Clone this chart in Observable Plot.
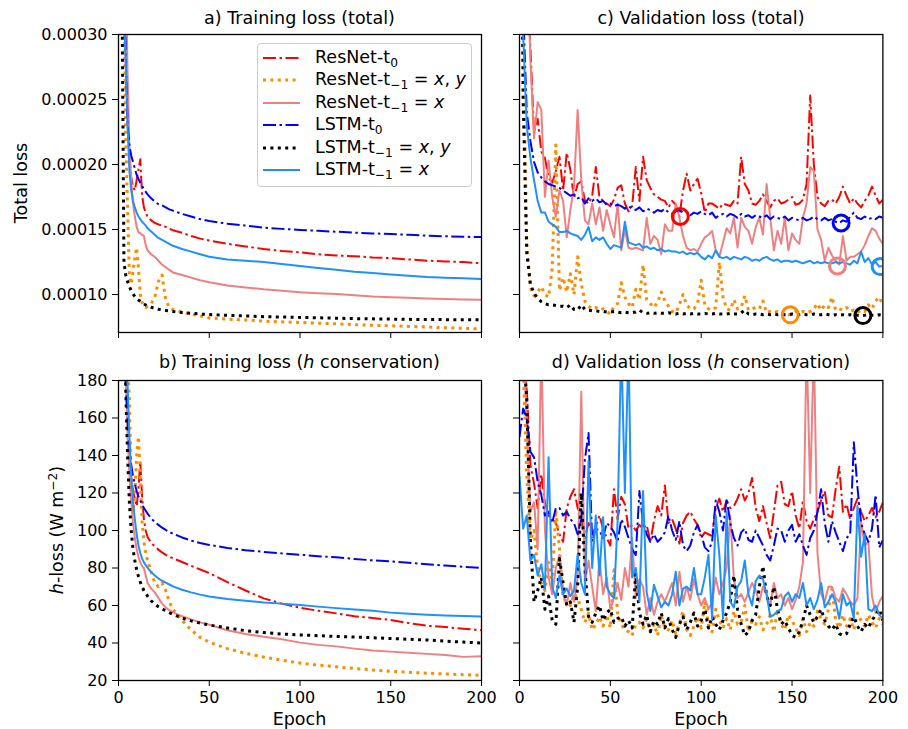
<!DOCTYPE html>
<html>
<head>
<meta charset="utf-8">
<script src="https://cdn.jsdelivr.net/npm/d3@7"></script>
<script src="https://cdn.jsdelivr.net/npm/@observablehq/plot@0.6"></script>
<style>
  body { margin: 0; background: #fff; }
  #fig { position: relative; width: 908px; height: 729px; font-family: "DejaVu Sans", sans-serif; color: #000; overflow: hidden; background: #fff; }
  .txt { position: absolute; white-space: nowrap; font-size: 17.5px; line-height: 1; transform: translate(-50%, -50%); }
  .rot { transform: translate(-50%, -50%) rotate(-90deg); }
  .leg { position: absolute; white-space: nowrap; font-size: 17.5px; line-height: 1; transform: translateY(-50%); }
  sub { font-size: 0.7em; vertical-align: -0.3em; line-height: 0; }
  sup { font-size: 0.7em; vertical-align: 0.55em; line-height: 0; }
  i { font-style: oblique; }
</style>
</head>
<body>
<div id="fig"></div>
<script>
// ---------------- data ----------------
const xTicks = [0, 50, 100, 150, 200];
const yTicksTotal = [10, 15, 20, 25, 30];      // units of 1e-5
const yTicksH = [20, 40, 60, 80, 100, 120, 140, 160, 180];

const seriesLabels = [
  "ResNet-t<sub>0</sub>",
  "ResNet-t<sub>−1</sub> = <i>x</i>, <i>y</i>",
  "ResNet-t<sub>−1</sub> = <i>x</i>",
  "LSTM-t<sub>0</sub>",
  "LSTM-t<sub>−1</sub> = <i>x</i>, <i>y</i>",
  "LSTM-t<sub>−1</sub> = <i>x</i>"
];

const trainEpoch = [1,2,3,4,5,6,7,8,9,10,11,12,13,14,15,16,18,20,22,24,26,28,30,35,40,45,50,60,70,80,90,100,110,120,130,140,150,160,170,180,190,200];

// a) training total loss (x 1e-5)
const trainTotalResNetT0 = [80,50,38,30,24,20.5,19.0,18.3,18.0,18.8,19.6,20.4,17.6,16.7,16.3,16.0,15.7,15.5,15.4,15.3,15.2,15.05,14.95,14.75,14.5,14.3,14.15,13.9,13.7,13.5,13.35,13.25,13.1,13.0,12.95,12.85,12.8,12.7,12.6,12.55,12.5,12.4];
const trainTotalResNetXY = [100,60,35,22,16.5,11.5,10.8,11.8,12.8,13.6,12.0,10.0,9.4,9.1,9.0,9.1,9.3,9.8,11.0,11.5,9.6,9.0,8.85,8.65,8.5,8.35,8.2,8.1,8.05,7.95,7.9,7.85,7.8,7.75,7.68,7.63,7.6,7.55,7.5,7.45,7.4,7.35];
const trainTotalResNetX = [100,70,48,35,27,21.5,18.8,17.0,16.0,15.2,14.8,14.7,14.6,14.5,13.8,13.4,13.1,12.9,12.6,12.3,12.1,11.9,11.7,11.5,11.3,11.1,10.95,10.7,10.55,10.4,10.3,10.18,10.1,10.05,9.95,9.85,9.8,9.75,9.7,9.65,9.62,9.6];
const trainTotalLstmT0 = [80,50,38,28,23,21.5,20.7,20.2,19.7,19.2,18.9,18.6,18.35,18.1,17.9,17.7,17.4,17.15,16.95,16.85,16.7,16.55,16.45,16.2,16.0,15.8,15.65,15.45,15.3,15.15,15.05,14.97,14.9,14.83,14.76,14.7,14.65,14.6,14.53,14.48,14.44,14.42];
const trainTotalLstmXY = [60,32,12.5,11.5,11.0,10.6,10.3,10.05,9.85,9.7,9.58,9.48,9.38,9.28,9.2,9.12,9.02,8.94,8.87,8.82,8.78,8.74,8.7,8.62,8.56,8.5,8.46,8.4,8.35,8.3,8.27,8.24,8.21,8.18,8.15,8.13,8.11,8.09,8.08,8.07,8.06,8.05];
const trainTotalLstmX = [90,50,32,28,23,19.5,18.0,17.2,16.7,16.3,16.0,15.8,15.6,15.45,15.3,15.1,14.85,14.6,14.35,14.2,14.05,13.9,13.75,13.5,13.3,13.1,12.9,12.7,12.6,12.5,12.35,12.2,12.05,11.9,11.75,11.65,11.55,11.45,11.35,11.3,11.25,11.2];

// b) training h-loss (W m-2)
const trainHResNetT0 = [400,300,220,180,155,140,128,121,117,113,122,137,118,106,100,96.5,93.5,91.5,89.8,88.3,87,86,85.2,83.2,81.2,79.2,77.3,72.5,68,63.8,61,58.8,57.2,55.8,54.3,53.3,52.3,50.6,49.2,48.5,47.6,46.8];
const trainHResNetXY = [400,320,260,215,190,170,125,110,120,140,150,130,105,94,88,84,78,72,70,72,68,62,58,52,47,43,40.5,37,34.5,32.5,30.8,29.3,28.2,27.3,26.4,25.6,24.9,24.4,23.9,23.5,23.1,22.8];
const trainHResNetX = [400,300,230,180,150,130,115,104,96,90,86,83,81,80,76,72,69,67,64,61,59,57.5,56.3,54.3,52.6,51,49.7,46.8,44.8,43.3,42,40.2,39,38.2,37,36,35.4,34.8,34.2,33.6,32.6,33];
const trainHLstmT0 = [400,300,220,180,160,145,135,129,125,121,118,116,114,112,110.5,109,106.5,104.5,103,101.5,100.3,99.2,98.3,96.3,94.6,93.3,92.3,90.7,89.5,88.6,87.8,87.1,86.3,85.7,84.8,84.1,83.5,82.8,82,81.3,80.6,80];
const trainHLstmXY = [400,300,220,175,140,115,100,90,84,79,75.5,72.5,70,68,66.5,65,62.5,60.8,59.3,58.2,57.2,56.2,55.3,53.3,51.8,50.6,49.6,48,46.6,45.6,44.8,44.3,43.9,43.5,43.2,42.8,42.4,42,41.6,41,40.5,40];
const trainHLstmX = [500,380,280,215,178,150,130,115,106,98,92,88,85,83,81.5,80.2,77.8,76,74.4,73.2,72.2,71.2,70.2,68.4,67,65.8,64.8,63.5,62.5,61.6,61,60.3,59.4,58.6,57.9,57.2,56.2,55.6,55.1,54.7,54.4,54.1];

const valEpoch = [0,2,4,6,8,10,12,14,16,18,20,22,24,26,28,30,32,34,36,38,40,42,44,46,48,50,52,54,56,58,60,62,64,66,68,70,72,74,76,78,80,82,84,86,88,90,92,94,96,98,100,102,104,106,108,110,112,114,116,118,120,122,124,126,128,130,132,134,136,138,140,142,144,146,148,150,152,154,156,158,160,162,164,166,168,170,172,174,176,178,180,182,184,186,188,190,192,194,196,198,200];

// c) validation total loss (x 1e-5)
const valTotalResNetT0 = [60,45,35,29,22.5,23.5,21.0,20.5,19.0,18.6, 19.5,20.6,18.0,20.9,19.6,17.4,18.5,18.7,17.2,17.0, 17.6,19.8,17.5,17.2,17.0,16.8,17.3,18.2,18.4,17.0, 16.4,16.8,19.8,17.2,20.6,18.8,18.2,17.7,17.5,17.3, 17.2,16.7,17.2,16.9,16.0,18.0,19.3,18.0,18.5,18.9, 17.8,16.3,17.0,17.0,16.8,16.6,17.0,16.9,16.8,17.2, 17.0,20.6,18.5,18.0,17.0,16.9,17.2,17.7,17.2,16.7, 17.2,17.4,17.0,17.1,17.3,17.5,16.9,17.0,17.3,18.5, 25.3,20.0,17.5,17.0,16.8,17.2,17.3,17.0,17.5,18.3, 17.6,17.0,17.4,17.0,16.7,17.2,17.6,18.3,17.6,17.0, 17.3];
const valTotalResNetXY = [60,30,14,10.5,9.9,10.2,10.6,10.0,9.8,12.0, 21.5,10.3,11.3,10.2,11.6,10.0,12.9,10.8,9.5,9.1, 8.9,9.0,8.8,8.9,8.7,8.5,9.1,9.3,10.9,9.8, 9.3,9.0,10.4,9.6,12.3,9.6,9.3,9.0,9.4,10.2, 9.5,9.1,8.7,8.6,9.2,10.0,9.2,8.9,8.9,9.3, 11.1,9.2,8.9,8.8,9.0,12.5,9.8,8.9,8.8,9.6, 8.9,9.0,9.9,8.8,8.9,9.0,8.9,9.5,8.6,8.7, 8.6,8.7,8.5,8.6,8.45,8.5,8.7,8.6,8.7,8.6, 8.7,8.9,9.3,8.8,9.2,9.0,9.8,8.8,8.9,8.8, 9.0,8.7,8.8,8.6,8.8,8.7,9.2,8.9,9.5,9.8, 9.2];
const valTotalResNetX = [60,50,38,28,22.0,24.8,24.2,17.5,20.3,17.5, 16.0,18.0,17.2,14.4,16.5,18.3,24.2,18.8,15.7,15.4, 17.0,15.4,16.7,14.9,16.5,15.4,14.4,17.0,13.4,15.0, 13.6,13.5,13.6,13.5,13.4,15.9,13.9,14.5,14.2,13.1, 15.4,14.9,14.9,17.0,15.9,14.5,13.6,13.4,13.5,13.3, 13.9,14.4,14.6,14.9,13.4,12.9,14.0,15.1,14.7,15.9, 13.6,15.9,15.2,14.9,13.9,15.2,15.9,14.6,18.5,15.9, 13.4,14.9,13.9,15.9,13.4,14.7,14.2,13.9,15.9,17.0, 19.8,19.5,15.0,14.2,12.6,13.6,13.0,12.6,12.3,14.5, 12.6,12.9,12.9,13.1,13.3,13.8,14.5,15.1,14.9,14.3, 13.9];
const valTotalLstmT0 = [60,32,24.0,21.8,20.2,19.4,19.0,18.7,18.5,18.4, 18.3,18.2,18.0,17.8,17.6,17.7,17.4,17.5,17.0,17.4, 17.2,17.4,17.1,17.2,16.9,17.0,16.8,16.9,16.8,16.6, 16.8,16.6,16.5,16.7,16.4,16.6,16.5,16.3,16.5,16.4, 16.6,16.3,16.2,16.4,16.5,16.3,16.4,16.1,16.3,16.2, 16.4,16.2,16.1,16.3,15.9,16.1,16.2,16.0,16.2,16.1, 15.9,16.2,16.0,16.1,15.9,16.1,16.0,15.9,16.1,15.8, 16.0,15.9,15.8,16.0,15.7,15.9,15.8,15.7,15.9,15.7, 15.8,16.0,15.8,15.7,15.9,15.7,15.8,15.6,15.5,15.7, 15.6,16.0,16.3,15.9,15.8,16.0,15.8,15.9,15.8,16.0, 15.9];
const valTotalLstmXY = [60,25,13.2,10.8,10.1,9.7,9.45,9.3,9.2,9.2, 9.15,9.1,9.1,9.0,9.2,8.85,8.8,9.2,8.85,8.8, 8.75,8.75,8.7,8.7,8.65,8.65,8.7,8.65,8.6,8.65, 8.6,8.6,8.65,8.8,8.6,8.55,8.6,8.55,8.6,8.55, 8.55,8.6,8.55,8.5,8.55,8.5,8.55,8.5,8.55,8.5, 8.5,8.55,8.5,8.5,8.55,8.5,8.5,8.5,8.55,8.5, 8.5,8.6,8.8,8.5,8.45,8.5,8.5,8.45,8.5,8.45, 8.5,8.45,8.5,8.45,8.45,8.5,8.45,8.45,8.5,8.45, 8.45,8.5,8.45,8.45,8.5,8.45,8.4,8.45,8.4,8.45, 8.4,8.45,8.4,8.4,8.38,8.4,8.45,8.4,8.4,8.45, 8.4];
const valTotalLstmX = [60,30,23.0,20.5,18.8,17.2,16.3,16.3,15.6,15.4, 15.2,14.8,14.8,14.9,14.7,14.6,14.5,14.2,14.6,15.2, 14.1,14.4,14.2,14.4,13.9,13.5,13.8,13.7,13.6,15.6, 14.0,13.9,13.8,13.9,13.6,13.7,13.5,13.6,13.4,13.5, 13.3,13.4,13.3,13.3,13.2,13.3,13.1,13.2,13.1,13.2, 12.9,12.7,13.0,12.8,13.4,12.9,12.8,12.9,12.7,12.9, 12.8,12.7,12.9,12.8,12.6,12.7,12.6,12.8,12.9,12.7, 12.6,12.7,12.5,12.6,12.6,12.5,12.6,12.5,12.4,12.5, 12.6,12.4,12.5,12.4,12.5,12.4,12.4,12.5,12.4,12.5, 12.4,12.3,12.6,12.4,13.3,12.5,12.8,12.3,12.5,12.15, 12.2];

// minima circles in panel c (series order as legend)
const valMinEpoch = [88.5, 149, 175, 177, 189, 198.5];
const valMinLoss = [16.0, 8.44, 12.2, 15.5, 8.38, 12.15];

// d) validation h-loss (W m-2)
const valHResNetT0 = [200,190,175,135,125,112,130,115,108,106, 104,98,94,112,118,122,112,108,96,104, 98,102,108,101,96,92,122,106,118,114, 101,103,100,103,101,103,94,105,113,108, 124,104,106,101,93,104,108,110,106,103, 96,99,98,97,112,117,110,116,112,113, 117,122,116,120,128,112,105,113,104,96, 110,124,126,114,113,121,108,101,116,105, 101,106,110,116,121,108,107,122,134,110, 114,106,112,117,110,105,108,112,107,110, 115];
const valHResNetXY = [200,190,130,95,100,80,72,68,83,72, 111,90,64,62,60,66,64,58,51,56, 47,50,54,49,55,48,79,56,50,47, 46,44,50,51,48,53,46,50,44,55, 48,47,52,45,50,57,47,44,49,54, 48,62,50,46,58,52,48,53,47,57, 50,51,60,46,52,50,54,47,50,55, 46,58,50,47,55,52,48,44,53,46, 51,49,57,53,50,58,69,52,48,55, 49,53,47,56,52,49,55,51,48,53, 50];
const valHResNetX = [200,200,160,110,115,90,200,100,75,66, 80,87,66,60,72,62,75,174,72,84, 70,57,85,66,75,58,64,72,63,80, 70,96,64,74,70,55,64,55,62,66, 62,67,72,60,78,62,70,63,74,66, 60,64,58,62,75,66,72,80,108,74, 64,66,62,67,72,68,62,70,66,60, 72,64,66,60,64,58,63,70,83,200, 120,200,88,66,62,70,70,64,62,69, 66,62,60,64,105,92,94,65,56,62, 65];
const valHLstmT0 = [150,165,160,142,139,126,119,108,110,104, 112,112,108,110,106,104,98,106,138,152, 94,101,100,96,104,102,99,94,106,102, 96,90,87,121,104,98,94,98,94,96, 99,108,100,95,105,92,89,92,99,103, 98,91,89,94,116,110,100,117,104,96, 92,99,101,95,94,100,96,92,87,84, 92,101,100,94,100,103,94,98,92,87, 96,100,110,122,104,94,105,99,94,89, 96,98,147,123,104,98,94,101,119,91, 95];
const valHLstmXY = [200,200,170,95,62,68,75,58,65,52, 50,85,72,60,62,51,70,120,80,54, 51,56,60,52,56,58,51,53,54,49, 52,48,77,56,50,55,46,52,50,56, 48,53,47,43,50,54,47,51,56,49, 52,58,48,54,50,47,52,56,62,76, 58,50,44,46,52,55,70,81,65,60, 70,58,50,52,48,44,43,46,52,60, 55,51,54,58,52,49,47,50,45,44, 45,50,54,49,46,50,48,52,55,58, 52];
const valHLstmX = [129,101,108,84,87,76,82,69,139,70, 64,76,66,69,65,68,87,72,66,137, 80,108,76,107,70,66,64,105,200,120, 200,75,80,62,121,67,57,71,65,59, 62,60,66,78,60,69,70,68,80,66, 66,75,87,53,108,87,53,110,62,59, 70,73,84,66,60,73,76,74,66,54, 55,57,58,65,67,62,66,64,72,60, 64,58,63,72,59,62,66,62,53,66, 60,62,53,113,86,98,58,57,60,55, 53];

// ---------------- styles ----------------
const styles = [
  { color: "#ff0000", width: 2, dash: "13,3.5,2.5,3.5" },
  { color: "#ff8c00", width: 3, dash: "3,4.4" },
  { color: "#f08080", width: 2, dash: null },
  { color: "#0000ff", width: 2, dash: "13,3.5,2.5,3.5" },
  { color: "#000000", width: 3, dash: "3,4.4" },
  { color: "#1e90ff", width: 2, dash: null }
];

const fig = document.getElementById("fig");

function panel({ fx0, fy0, fx1, fy1, yDomain, yTicks, yFmt, xFmt, epochs, series, circles }) {
  const mL = 100, mR = 12, mT = 12, mB = 40;
  const W = (fx1 - fx0) + mL + mR, H = (fy1 - fy0) + mT + mB;
  const marks = [];
  series.forEach((vals, i) => {
    const st = styles[i];
    const data = epochs.map((e, j) => ({ epoch: e, loss: vals[j] }));
    const opts = { x: "epoch", y: "loss", stroke: st.color, strokeWidth: st.width, strokeLinecap: "butt", strokeLinejoin: "round", clip: true };
    if (st.dash) opts.strokeDasharray = st.dash;
    marks.push(Plot.line(data, opts));
  });
  if (circles) {
    circles.forEach((c, i) => {
      marks.push(Plot.dot([c], { x: "epoch", y: "loss", r: 8, stroke: styles[i].color, fill: "none", strokeWidth: 3, clip: true }));
    });
  }
  marks.push(Plot.frame({ stroke: "black", strokeWidth: 1.3 }));
  const svg = Plot.plot({
    width: W, height: H,
    marginLeft: mL, marginRight: mR, marginTop: mT, marginBottom: mB,
    x: { domain: [0, 200], ticks: xTicks, tickSize: 6, tickPadding: 5, tickFormat: xFmt, label: null },
    y: { domain: yDomain, ticks: yTicks, tickSize: 6, tickPadding: 5, tickFormat: yFmt, label: null },
    style: { background: "none", fontFamily: "DejaVu Sans", fontSize: "16px", color: "black", overflow: "visible", maxWidth: "none" },
    marks
  });
  svg.style.position = "absolute";
  svg.style.left = (fx0 - mL) + "px";
  svg.style.top = (fy0 - mT) + "px";
  fig.appendChild(svg);
}

const fmtTotal = d => (d * 1e-5).toFixed(5);
const fmtInt = d => String(d);
const blank = () => "";

const L0 = 118, L1 = 481, R0 = 519.3, R1 = 882.7;
const T0 = 34, T1 = 332, B0 = 379.5, B1 = 679.5;

panel({ fx0: L0, fy0: T0, fx1: L1, fy1: T1, yDomain: [7.08, 30], yTicks: yTicksTotal, yFmt: fmtTotal, xFmt: blank, epochs: trainEpoch,
  series: [trainTotalResNetT0, trainTotalResNetXY, trainTotalResNetX, trainTotalLstmT0, trainTotalLstmXY, trainTotalLstmX] });
panel({ fx0: R0, fy0: T0, fx1: R1, fy1: T1, yDomain: [7.08, 30], yTicks: yTicksTotal, yFmt: blank, xFmt: blank, epochs: valEpoch,
  series: [valTotalResNetT0, valTotalResNetXY, valTotalResNetX, valTotalLstmT0, valTotalLstmXY, valTotalLstmX],
  circles: valMinEpoch.map((e, i) => ({ epoch: e, loss: valMinLoss[i] })) });
panel({ fx0: L0, fy0: B0, fx1: L1, fy1: B1, yDomain: [20, 180], yTicks: yTicksH, yFmt: fmtInt, xFmt: fmtInt, epochs: trainEpoch,
  series: [trainHResNetT0, trainHResNetXY, trainHResNetX, trainHLstmT0, trainHLstmXY, trainHLstmX] });
panel({ fx0: R0, fy0: B0, fx1: R1, fy1: B1, yDomain: [20, 180], yTicks: yTicksH, yFmt: blank, xFmt: fmtInt, epochs: valEpoch,
  series: [valHResNetT0, valHResNetXY, valHResNetX, valHLstmT0, valHLstmXY, valHLstmX] });

// ---------------- text ----------------
function addText(html, cx, cy, cls) {
  const d = document.createElement("div");
  d.className = "txt" + (cls ? " " + cls : "");
  d.innerHTML = html;
  d.style.left = cx + "px";
  d.style.top = cy + "px";
  fig.appendChild(d);
}
const cxL = (L0 + L1) / 2, cxR = (R0 + R1) / 2;
addText("a) Training loss (total)", cxL, 18.5);
addText("c) Validation loss (total)", cxR, 18.5);
addText("b) Training loss (<i>h</i> conservation)", cxL, 363);
addText("d) Validation loss (<i>h</i> conservation)", cxR, 363);
addText("Epoch", cxL, 720);
addText("Epoch", cxR, 720);
addText("Total loss", 22, 183, "rot");
addText("<i>h</i>-loss (W m<sup>−2</sup>)", 58, 530, "rot");

// ---------------- legend ----------------
const box = document.createElement("div");
Object.assign(box.style, { position: "absolute", left: "256.5px", top: "43px", width: "215px", height: "144px",
  border: "1px solid #cccccc", borderRadius: "4px", background: "rgba(255,255,255,0.8)", boxSizing: "border-box" });
fig.appendChild(box);
seriesLabels.forEach((lab, i) => {
  const cy = 57.7 + 22.5 * i;
  const st = styles[i];
  const ns = "http://www.w3.org/2000/svg";
  const s = document.createElementNS(ns, "svg");
  s.setAttribute("width", 40); s.setAttribute("height", 10);
  Object.assign(s.style, { position: "absolute", left: "262px", top: (cy - 5) + "px" });
  const ln = document.createElementNS(ns, "line");
  ln.setAttribute("x1", 1); ln.setAttribute("x2", 38); ln.setAttribute("y1", 5); ln.setAttribute("y2", 5);
  ln.setAttribute("stroke", st.color); ln.setAttribute("stroke-width", st.width);
  if (st.dash) ln.setAttribute("stroke-dasharray", st.dash);
  s.appendChild(ln);
  fig.appendChild(s);
  const t = document.createElement("div");
  t.className = "leg";
  t.innerHTML = lab;
  t.style.left = "315px";
  t.style.top = cy + "px";
  fig.appendChild(t);
});
</script>
</body>
</html>
